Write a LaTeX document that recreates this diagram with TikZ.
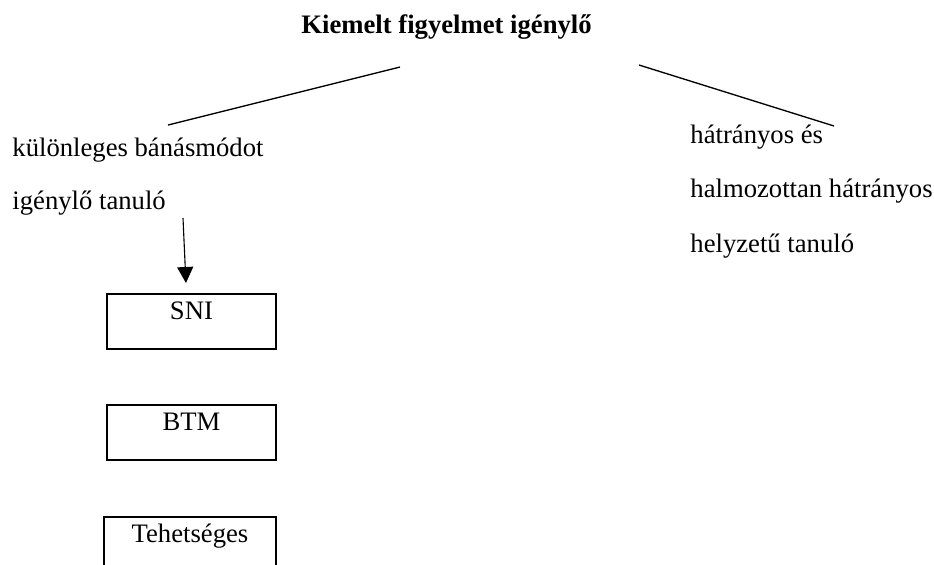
\documentclass[tikz,border=0pt]{standalone}
\usepackage{fontspec}
\setmainfont{Liberation Serif}
\usetikzlibrary{arrows.meta}
\begin{document}
\begin{tikzpicture}[x=0.45pt,y=-0.45pt,
  txt/.style={anchor=base west, inner sep=0pt, font=\fontsize{12}{14}\selectfont},
  ttl/.style={anchor=base, inner sep=0pt, font=\fontsize{12}{14}\selectfont\bfseries},
  catbox/.style={draw, line width=0.9pt, anchor=north west, inner sep=0pt, outer sep=0pt,
    minimum width=76pt, text height=11.25pt, text depth=13.5pt,
    font=\fontsize{12}{14}\selectfont},
  link/.style={line width=0.6pt},
  arr/.style={line width=0.5pt, -{Triangle[length=7.2pt,width=7.2pt]}}]
\fill[white] (0,0) rectangle (934,565);
\useasboundingbox (0,0) rectangle (934,565);

% heading
\node[ttl] (title) at (446.5,33) {Kiemelt figyelmet igénylő};

% left branch
\node[txt] (sen1) at (12,156) {különleges bánásmódot};
\node[txt] (sen2) at (12,209) {igénylő tanuló};

% right branch
\node[txt] (dis1) at (690,143) {hátrányos és};
\node[txt] (dis2) at (690,197) {halmozottan hátrányos};
\node[txt] (dis3) at (690,252) {helyzetű tanuló};

% category boxes
\node[catbox] (sni) at (107,294) {SNI};
\node[catbox] (btm) at (107,405) {BTM};
\node[catbox, minimum width=77.4pt] (teh) at (104,517) {Tehetséges};

% connectors
\coordinate (lstart) at ([shift={(-46.5,34)}]title.base);
\coordinate (lend) at ([shift={(156,-31)}]sen1.base west);
\coordinate (rstart) at ([shift={(192.5,32)}]title.base);
\coordinate (rend) at ([shift={(144,-17)}]dis1.base west);
\coordinate (atop) at ([shift={(171,9)}]sen2.base west);

\draw[link] (lstart) -- (lend);
\draw[link] (rstart) -- (rend);
\draw[arr] (atop) -- ([shift={(-5.5,-11)}]sni.north);
\end{tikzpicture}
\end{document}
